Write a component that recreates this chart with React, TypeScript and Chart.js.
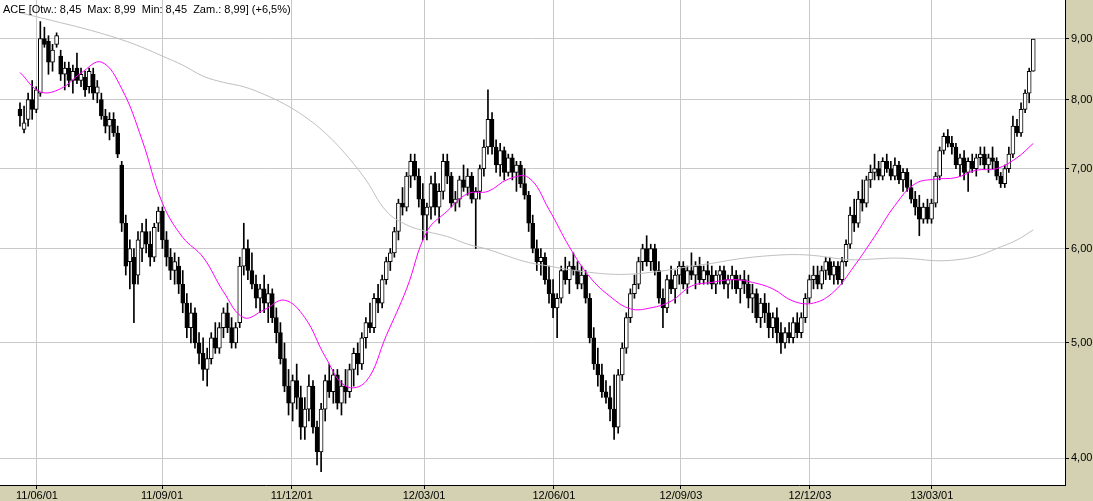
import React, { useEffect, useRef } from 'react';
import { Chart, registerables } from 'chart.js';

Chart.register(...registerables);

const titleText = 'ACE [Otw.: 8,45  Max: 8,99  Min: 8,45  Zam.: 8,99] (+6,5%)';

const tickIdx = [4.18, 34.9, 66.8, 99.3, 131.2, 162.4, 194.1, 224.1];
const tickLabels = ['11/06/01', '11/09/01', '11/12/01', '12/03/01', '12/06/01', '12/09/03', '12/12/03', '13/03/01'];
const yTicks = [4, 5, 6, 7, 8, 9];

const opens = [
  7.85, 7.55, 7.7, 8.0, 7.85, 8.1, 9.0, 8.95, 8.6, 8.9,
  8.7, 8.4, 8.5, 8.3, 8.5, 8.3, 8.35, 8.2, 8.4, 8.1,
  8.0, 7.75, 7.6, 7.7, 7.5, 7.05, 6.3, 5.85, 5.9, 5.7,
  6.0, 6.2, 6.05, 5.9, 6.3, 6.45, 6.1, 5.9, 5.75, 5.8,
  5.6, 5.4, 5.15, 5.3, 5.0, 4.9, 4.75, 4.85, 5.05, 4.95,
  5.15, 5.3, 5.15, 5.0, 5.2, 5.8, 6.0, 5.75, 5.6, 5.45,
  5.55, 5.4, 5.5, 5.25, 5.1, 4.85, 4.6, 4.45, 4.65, 4.5,
  4.25, 4.4, 4.6, 4.25, 4.05, 4.4, 4.65, 4.55, 4.7, 4.45,
  4.6, 4.55, 4.75, 4.9, 4.8, 5.05, 5.2, 5.15, 5.45, 5.4,
  5.65, 5.85, 5.95, 6.2, 6.55, 6.5, 6.9, 7.1, 6.9, 6.6,
  6.4, 6.5, 6.8, 6.5, 6.7, 7.1, 6.9, 6.55, 6.6, 6.85,
  6.75, 6.9, 6.6, 6.7, 7.0, 7.3, 7.7, 7.3, 7.05, 7.25,
  6.95, 7.15, 6.95, 7.05, 6.8, 6.65, 6.3, 6.0, 5.85, 5.9,
  5.65, 5.5, 5.35, 5.45, 5.75, 5.65, 5.8, 5.75, 5.6, 5.7,
  5.45, 5.05, 4.8, 4.7, 4.55, 4.5, 4.4, 4.25, 4.7, 4.95,
  5.25, 5.5, 5.6, 5.85, 6.0, 5.85, 6.0, 5.75, 5.45, 5.35,
  5.65, 5.55, 5.7, 5.8, 5.6, 5.75, 5.7, 5.8, 5.65, 5.75,
  5.7, 5.6, 5.7, 5.75, 5.6, 5.65, 5.7, 5.55, 5.65, 5.6,
  5.45, 5.5, 5.25, 5.4, 5.3, 5.15, 5.25, 5.1, 5.0, 5.1,
  5.05, 5.2, 5.1, 5.25, 5.45, 5.65, 5.7, 5.6, 5.75, 5.85,
  5.7, 5.8, 5.65, 5.85, 6.05, 6.4, 6.3, 6.6, 6.55, 6.85,
  6.95, 7.0, 6.9, 7.1, 7.0, 6.9, 7.05, 6.85, 6.95, 6.75,
  6.6, 6.5, 6.35, 6.5, 6.35, 6.55, 6.9, 7.25, 7.45, 7.35,
  7.3, 7.05, 7.15, 6.95, 7.1, 7.0, 7.15, 7.2, 7.05, 7.15,
  7.1, 6.9, 6.8, 7.0, 7.2, 7.6, 7.5, 7.85, 8.1, 8.45,
];

const highs = [
  7.95, 7.9, 8.1, 8.3, 8.2, 9.3, 9.2, 9.05, 8.9, 9.1,
  8.8, 8.6, 8.6, 8.55, 8.75, 8.5, 8.45, 8.5, 8.5, 8.3,
  8.1, 7.85, 7.8, 7.8, 7.6, 7.1, 6.4, 6.1, 6.0, 6.2,
  6.3, 6.35, 6.2, 6.3, 6.5, 6.5, 6.2, 6.0, 5.95, 5.9,
  5.75, 5.5, 5.4, 5.35, 5.1, 5.05, 4.95, 5.1, 5.2, 5.2,
  5.35, 5.4, 5.25, 5.2, 5.9, 6.3, 6.1, 5.95, 5.7, 5.6,
  5.7, 5.6, 5.55, 5.35, 5.2, 5.0, 4.75, 4.7, 4.8, 4.6,
  4.5, 4.7, 4.65, 4.3, 4.45, 4.7, 4.8, 4.75, 4.75, 4.65,
  4.75, 4.8, 4.95, 5.0, 5.1, 5.25, 5.4, 5.5, 5.6, 5.7,
  5.9, 6.0, 6.25, 6.6, 6.75, 6.95, 7.2, 7.2, 7.0, 6.8,
  6.55, 6.9, 6.95, 6.8, 7.2, 7.2, 6.95, 6.7, 6.9, 7.05,
  7.0, 6.95, 6.75, 7.05, 7.4, 8.15, 7.8, 7.4, 7.35, 7.3,
  7.2, 7.2, 7.1, 7.1, 7.0, 6.7, 6.4, 6.1, 6.0, 5.95,
  5.8, 5.65, 5.5, 5.8, 5.9, 5.85, 5.95, 5.85, 5.8, 5.75,
  5.5, 5.15, 4.95, 4.8, 4.65, 4.6, 4.7, 4.75, 5.0, 5.3,
  5.55, 5.7, 5.9, 6.05, 6.15, 6.05, 6.05, 5.85, 5.55, 5.7,
  5.8, 5.75, 5.85, 5.85, 5.8, 5.95, 5.85, 5.9, 5.8, 5.85,
  5.8, 5.75, 5.8, 5.8, 5.7, 5.8, 5.75, 5.7, 5.75, 5.7,
  5.6, 5.55, 5.45, 5.5, 5.4, 5.3, 5.35, 5.2, 5.15, 5.2,
  5.25, 5.3, 5.3, 5.5, 5.7, 5.8, 5.8, 5.8, 5.9, 5.9,
  5.85, 5.85, 5.9, 6.1, 6.5, 6.6, 6.7, 6.85, 6.9, 7.05,
  7.2, 7.1, 7.15, 7.2, 7.1, 7.15, 7.1, 7.0, 7.0, 6.85,
  6.7, 6.65, 6.55, 6.6, 6.6, 6.95, 7.3, 7.5, 7.55, 7.45,
  7.35, 7.2, 7.25, 7.15, 7.2, 7.2, 7.3, 7.3, 7.2, 7.3,
  7.15, 6.95, 7.05, 7.3, 7.75, 7.7, 7.95, 8.15, 8.5, 8.99,
];

const lows = [
  7.6, 7.5, 7.6, 7.7, 7.8, 8.05, 8.85, 8.4, 8.45, 8.85,
  8.3, 8.15, 8.2, 8.1, 8.25, 8.2, 8.05, 8.1, 8.0, 7.95,
  7.7, 7.5, 7.4, 7.45, 7.15, 6.2, 5.7, 5.55, 5.2, 5.6,
  5.85, 5.95, 5.8, 5.85, 6.2, 6.0, 5.8, 5.65, 5.6, 5.5,
  5.3, 5.05, 5.0, 4.95, 4.8, 4.65, 4.6, 4.8, 4.9, 4.9,
  5.05, 5.1, 4.95, 4.95, 5.15, 5.7, 5.65, 5.55, 5.35, 5.3,
  5.3, 5.2, 5.2, 5.0, 4.8, 4.55, 4.35, 4.3, 4.4, 4.15,
  4.15, 4.3, 4.2, 3.95, 3.9, 4.3, 4.5, 4.45, 4.4, 4.35,
  4.45, 4.5, 4.6, 4.7, 4.75, 4.95, 5.1, 5.1, 5.3, 5.35,
  5.6, 5.75, 5.9, 6.1, 6.4, 6.45, 6.75, 6.85, 6.5, 6.1,
  6.1, 6.35, 6.4, 6.3, 6.6, 6.8, 6.5, 6.45, 6.5, 6.7,
  6.65, 6.55, 6.0, 6.6, 6.9, 7.2, 7.2, 6.95, 6.9, 6.85,
  6.9, 6.85, 6.7, 6.75, 6.6, 6.2, 5.95, 5.75, 5.7, 5.6,
  5.4, 5.25, 5.05, 5.4, 5.6, 5.5, 5.7, 5.55, 5.55, 5.4,
  5.0, 4.75, 4.6, 4.5, 4.45, 4.3, 4.15, 4.2, 4.65, 4.9,
  5.2, 5.45, 5.55, 5.75, 5.8, 5.75, 5.7, 5.4, 5.15, 5.3,
  5.5, 5.4, 5.6, 5.55, 5.5, 5.65, 5.55, 5.6, 5.6, 5.6,
  5.55, 5.5, 5.6, 5.55, 5.45, 5.55, 5.5, 5.4, 5.5, 5.35,
  5.3, 5.2, 5.15, 5.2, 5.05, 5.05, 5.0, 4.9, 4.95, 5.0,
  5.0, 5.05, 5.05, 5.2, 5.4, 5.55, 5.55, 5.55, 5.65, 5.65,
  5.6, 5.6, 5.6, 5.8, 6.0, 6.2, 6.25, 6.45, 6.5, 6.75,
  6.85, 6.85, 6.85, 6.95, 6.85, 6.85, 6.8, 6.7, 6.7, 6.55,
  6.4, 6.15, 6.3, 6.3, 6.3, 6.5, 6.85, 7.2, 7.3, 7.2,
  7.0, 6.9, 6.85, 6.7, 6.95, 6.9, 7.05, 7.0, 6.95, 7.0,
  6.85, 6.75, 6.75, 6.95, 7.15, 7.45, 7.45, 7.8, 7.95, 8.45,
];

const closes = [
  7.75, 7.65, 8.0, 7.85, 8.15, 9.0, 8.9, 8.6, 8.8, 9.05,
  8.4, 8.5, 8.3, 8.45, 8.3, 8.4, 8.15, 8.45, 8.1, 8.2,
  7.75, 7.6, 7.7, 7.5, 7.2, 6.3, 5.8, 6.0, 5.6, 6.1,
  6.2, 6.05, 5.9, 6.25, 6.45, 6.1, 5.9, 5.75, 5.85, 5.6,
  5.4, 5.15, 5.3, 5.0, 4.9, 4.75, 4.85, 5.05, 4.95, 5.15,
  5.3, 5.15, 5.0, 5.15, 5.8, 6.0, 5.75, 5.6, 5.45, 5.55,
  5.4, 5.5, 5.25, 5.1, 4.85, 4.6, 4.45, 4.65, 4.5, 4.25,
  4.4, 4.6, 4.25, 4.05, 4.4, 4.65, 4.55, 4.7, 4.45, 4.6,
  4.55, 4.75, 4.9, 4.8, 5.05, 5.2, 5.15, 5.45, 5.4, 5.65,
  5.85, 5.95, 6.2, 6.55, 6.5, 6.9, 7.1, 6.9, 6.6, 6.4,
  6.5, 6.8, 6.5, 6.7, 7.1, 6.9, 6.55, 6.6, 6.85, 6.75,
  6.9, 6.6, 6.7, 7.0, 7.3, 7.7, 7.3, 7.05, 7.25, 6.95,
  7.15, 6.95, 7.05, 6.8, 6.65, 6.3, 6.0, 5.85, 5.9, 5.65,
  5.5, 5.35, 5.45, 5.75, 5.65, 5.8, 5.75, 5.6, 5.7, 5.45,
  5.05, 4.8, 4.7, 4.55, 4.5, 4.4, 4.25, 4.7, 4.95, 5.25,
  5.5, 5.6, 5.85, 6.0, 5.85, 6.0, 5.75, 5.45, 5.35, 5.65,
  5.55, 5.7, 5.8, 5.6, 5.75, 5.7, 5.8, 5.65, 5.75, 5.7,
  5.6, 5.7, 5.75, 5.6, 5.65, 5.7, 5.55, 5.65, 5.6, 5.45,
  5.5, 5.25, 5.4, 5.3, 5.15, 5.25, 5.1, 5.0, 5.1, 5.05,
  5.2, 5.1, 5.25, 5.45, 5.65, 5.7, 5.6, 5.75, 5.85, 5.7,
  5.8, 5.65, 5.85, 6.05, 6.4, 6.3, 6.6, 6.55, 6.85, 6.95,
  7.0, 6.9, 7.1, 7.0, 6.9, 7.05, 6.85, 6.95, 6.75, 6.6,
  6.5, 6.35, 6.5, 6.35, 6.55, 6.9, 7.25, 7.45, 7.35, 7.3,
  7.05, 7.15, 6.95, 7.1, 7.0, 7.15, 7.2, 7.05, 7.15, 7.1,
  6.9, 6.8, 7.0, 7.2, 7.6, 7.5, 7.85, 8.1, 8.45, 8.99,
];

const maIdx = [
  0, 5, 10, 15, 20, 25, 30, 35, 40, 45,
  50, 55, 60, 65, 70, 75, 80, 85, 90, 95,
  100, 105, 110, 115, 120, 125, 130, 135, 140, 145,
  150, 155, 160, 165, 170, 175, 180, 185, 190, 195,
  200, 205, 210, 215, 220, 225, 230, 235, 240, 245, 249,
];

const maFast = [
  8.43, 8.12, 8.17, 8.42, 8.6, 8.17, 7.4, 6.55, 6.13, 5.9,
  5.52, 5.25, 5.33, 5.43, 5.25, 4.87, 4.6, 4.64, 5.07, 5.55,
  6.2, 6.45, 6.67, 6.7, 6.86, 6.88, 6.47, 6.02, 5.68, 5.47,
  5.34, 5.35, 5.42, 5.58, 5.62, 5.65, 5.62, 5.55, 5.42, 5.4,
  5.52, 5.8, 6.14, 6.52, 6.8, 6.86, 6.88, 6.98, 7.0, 7.15, 7.35,
];

const maSlow = [
  9.46, 9.37, 9.28, 9.19, 9.09, 8.98, 8.85, 8.7, 8.55, 8.37,
  8.27, 8.2, 8.08, 7.93, 7.74, 7.5, 7.2, 6.85, 6.45, 6.28,
  6.2, 6.14, 6.05, 5.99, 5.91, 5.84, 5.8, 5.76, 5.73, 5.71,
  5.71, 5.73, 5.76, 5.8, 5.83, 5.87, 5.9, 5.92, 5.93, 5.92,
  5.89, 5.87, 5.88, 5.89, 5.88, 5.86, 5.87, 5.91, 6.0, 6.1, 6.22,
];

const KHAKI = '#d3d1b1';
const GRID = '#c9c9c9';
const FONT = '"Liberation Sans", Arial, sans-serif';

const noPad = (s: any) => {
  s.paddingTop = 0;
  s.paddingBottom = 0;
  s.paddingLeft = 0;
  s.paddingRight = 0;
};

export default function App() {
  const ref = useRef<HTMLCanvasElement>(null);

  useEffect(() => {
    document.body.style.margin = '0';
    const canvas = ref.current;
    if (!canvas) return;

    const wicks = lows.map((l, i) => ({ x: i, y: [l, highs[i]] }));
    const bodies = opens.map((o, i) => ({ x: i, y: [Math.min(o, closes[i]), Math.max(o, closes[i])] }));
    const bodyFill = opens.map((o, i) => (closes[i] >= o ? '#ffffff' : '#000000'));
    const fastPts = maIdx.map((x, i) => ({ x, y: maFast[i] }));
    const slowPts = maIdx.map((x, i) => ({ x, y: maSlow[i] }));

    const bg = {
      id: 'bg',
      beforeDraw(chart: any) {
        const { ctx, chartArea: a } = chart;
        ctx.save();
        ctx.fillStyle = KHAKI;
        ctx.fillRect(0, 0, chart.width, chart.height);
        ctx.fillStyle = '#ffffff';
        ctx.fillRect(a.left, a.top, a.right - a.left, a.bottom - a.top);
        ctx.restore();
      },
    };

    const chart = new Chart(canvas, {
      type: 'bar',
      data: {
        datasets: [
          {
            type: 'line',
            data: slowPts as any,
            borderColor: '#c0c0c0',
            borderWidth: 1,
            pointRadius: 0,
            tension: 0.4,
            order: 2,
          } as any,
          {
            type: 'bar',
            data: wicks as any,
            backgroundColor: '#000000',
            borderWidth: 0,
            barThickness: 1,
            grouped: false,
            order: 4,
          } as any,
          {
            type: 'bar',
            data: bodies as any,
            backgroundColor: bodyFill,
            borderColor: '#000000',
            borderWidth: 1,
            borderSkipped: false,
            barThickness: 4,
            grouped: false,
            order: 3,
          } as any,
          {
            type: 'line',
            data: fastPts as any,
            borderColor: '#ff00ff',
            borderWidth: 1,
            pointRadius: 0,
            tension: 0.4,
            order: 1,
          } as any,
        ],
      },
      options: {
        responsive: false,
        maintainAspectRatio: false,
        animation: false,
        devicePixelRatio: 1,
        events: [],
        layout: { padding: 0 },
        plugins: {
          legend: { display: false },
          tooltip: { enabled: false },
          title: { display: false },
        },
        scales: {
          x: {
            type: 'linear',
            min: -4.91,
            max: 256.8,
            offset: false,
            afterBuildTicks: (s: any) => {
              s.ticks = tickIdx.map((v) => ({ value: v }));
            },
            afterFit: (s: any) => {
              s.height = 16;
              noPad(s);
            },
            ticks: {
              autoSkip: false,
              maxRotation: 0,
              minRotation: 0,
              padding: 0,
              color: '#000000',
              font: { family: FONT, size: 11 },
              callback: (_v: any, i: number) => tickLabels[i],
            },
            grid: { color: GRID, tickColor: '#000000', tickLength: 4, offset: false, lineWidth: 1 },
            border: { color: '#000000', width: 1 },
          },
          y: {
            type: 'logarithmic',
            position: 'right',
            min: 3.843,
            max: 9.696,
            afterBuildTicks: (s: any) => {
              s.ticks = yTicks.map((v) => ({ value: v }));
            },
            afterFit: (s: any) => {
              s.width = 28;
              noPad(s);
            },
            ticks: {
              padding: 2,
              color: '#000000',
              font: { family: FONT, size: 11 },
              callback: (v: any) => Number(v).toFixed(2).replace('.', ','),
            },
            grid: { color: GRID, tickColor: '#000000', tickLength: 4, lineWidth: 1 },
            border: { color: '#000000', width: 1 },
          },
        },
      } as any,
      plugins: [bg],
    });

    return () => {
      chart.destroy();
    };
  }, []);

  return (
    <div style={{ position: 'fixed', left: 0, top: 0, width: 1093, height: 501 }}>
      <canvas ref={ref} width={1093} height={501} style={{ display: 'block', width: 1093, height: 501 }} />
      <div
        style={{
          position: 'absolute',
          left: 3,
          top: 3,
          font: '11px "Liberation Sans", Arial, sans-serif',
          color: '#000000',
          whiteSpace: 'pre',
          lineHeight: '13px',
        }}
      >
        {titleText}
      </div>
    </div>
  );
}
